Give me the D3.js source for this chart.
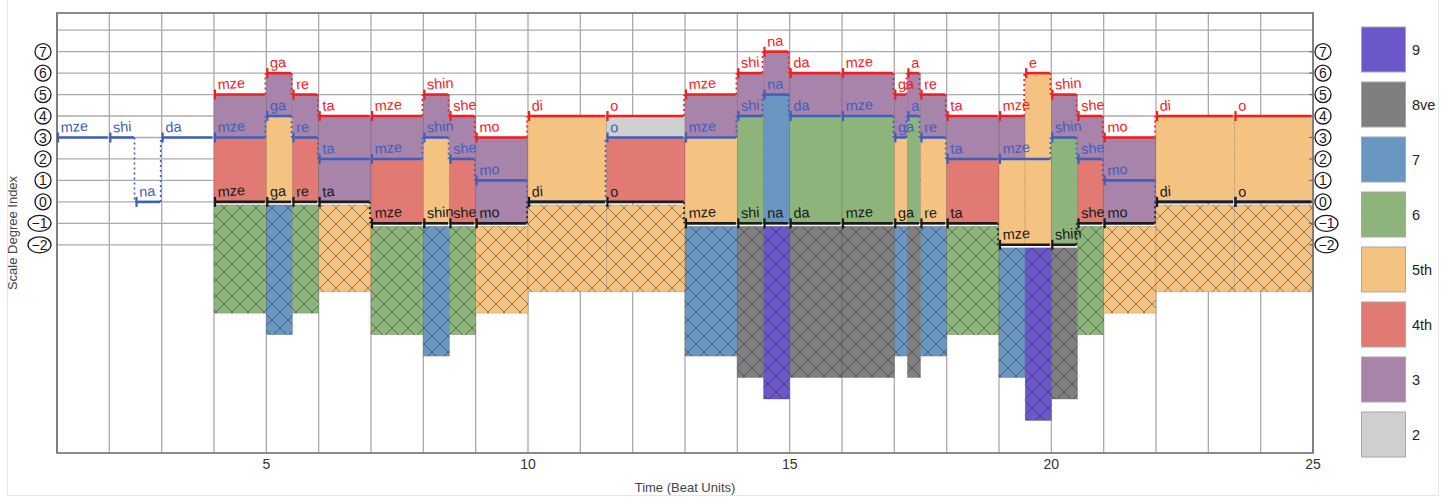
<!DOCTYPE html>
<html><head><meta charset="utf-8">
<script src="https://cdn.jsdelivr.net/npm/d3@7"></script>
<style>
body{margin:0;background:#fff}
svg{display:block}
text{font-family:"Liberation Sans",Arial,Helvetica,sans-serif}
</style>
</head><body>
<svg id="chart" width="1454" height="498"></svg>
<script>
// ---------------- data ----------------
const timeEnd = 25;
// middle voice (blue)
const midStart = [1,2,2.5,3,4,5,5.5,6,7,8,8.5,9,10,11.5,13,14,14.5,15,16,17,17.25,17.5,18,19,20,20.5,21,22,23.5];
const midLevel = [3,3,0,3,3,4,3,2,2,3,2,1,0,3,3,4,5,4,4,3,4,3,2,2,3,2,1,0,0];
const midSyl   = ["mze","shi","na","da","mze","ga","re","ta","mze","shin","she","mo","di","o","mze","shi","na","da","mze","ga","a","re","ta","mze","shin","she","mo","di","o"];
// top voice (red)
const topStart = [4,5,5.5,6,7,8,8.5,9,10,11.5,13,14,14.5,15,16,17,17.25,17.5,18,19,19.5,20,20.5,21,22,23.5];
const topLevel = [5,6,5,4,4,5,4,3,4,4,5,6,7,6,6,5,6,5,4,4,6,5,4,3,4,4];
const topSyl   = ["mze","ga","re","ta","mze","shin","she","mo","di","o","mze","shi","na","da","mze","ga","a","re","ta","mze","e","shin","she","mo","di","o"];
// bottom voice (black)
const botStart = [4,5,5.5,6,7,8,8.5,9,10,11.5,13,14,14.5,15,16,17,17.5,18,19,20,20.5,21,22,23.5];
const botLevel = [0,0,0,0,-1,-1,-1,-1,0,0,-1,-1,-1,-1,-1,-1,-1,-1,-2,-2,-1,-1,0,0];
const botSyl   = ["mze","ga","re","ta","mze","shin","she","mo","di","o","mze","shi","na","da","mze","ga","re","ta","mze","shin","she","mo","di","o"];
// interval categories (index = scale-degree distance - 1)
const intervalNames  = ["2","3","4th","5th","6","7","8ve","9"];
const intervalColors = ["#d0d0d0","#a884ab","#e07a73","#f5c381","#8db57b","#6997c1","#7f7f7f","#6b57c9"];
const yTickLabels = [-2,-1,0,1,2,3,4,5,6,7];
const yGrid = [-2,-1,0,1,2,3,4,5,6,7,8];
const xTickLabels = [5,10,15,20,25];
const xGrid = d3.range(1,26);

// ---------------- setup ----------------
const svg = d3.select("#chart");
const x = d3.scaleLinear().domain([1,25]).range([57,1313]);
const y = d3.scaleLinear().domain([-11.7,8.8]).range([453,13]);
const colorOf = d => intervalColors[d-1];

// outer faint frame
svg.append("rect").attr("x",7.5).attr("y",-2).attr("width",1431).attr("height",497.5)
  .attr("fill","none").attr("stroke","#e6e6e6").attr("stroke-width",1);

// hatch patterns
const defs = svg.append("defs");
intervalColors.forEach((c,i)=>{
  const p = defs.append("pattern").attr("id","h"+i).attr("patternUnits","userSpaceOnUse")
    .attr("width",16).attr("height",16);
  p.append("rect").attr("width",16).attr("height",16).attr("fill",c);
  p.append("path").attr("d","M0,0L16,16M16,0L0,16M-2,14L2,18M14,-2L18,2M-2,2L2,-2M14,18L18,14")
    .attr("stroke","rgba(30,30,30,0.55)").attr("stroke-width",0.85);
});

// grid
const grid = svg.append("g");
grid.selectAll("line.v").data(xGrid).join("line")
  .attr("x1",d=>x(d)).attr("x2",d=>x(d)).attr("y1",y.range()[1]).attr("y2",y.range()[0])
  .attr("stroke","#ababab").attr("stroke-width",1.3);
grid.selectAll("line.h").data(yGrid).join("line")
  .attr("x1",x(1)).attr("x2",x(25)).attr("y1",d=>y(d)).attr("y2",d=>y(d))
  .attr("stroke","#ababab").attr("stroke-width",1.3);

// segments
const levelAt = (starts,levels,t)=>{const i=d3.bisectRight(starts,t)-1;return i>=0?levels[i]:null;};
const bounds = Array.from(new Set([...topStart,...botStart,...midStart.filter(s=>s>=4),timeEnd])).sort((a,b)=>a-b);
const segs = [];
for(let i=0;i<bounds.length-1;i++){
  const a=bounds[i], b=bounds[i+1], t=(a+b)/2;
  const bl=levelAt(botStart,botLevel,t), ml=levelAt(midStart,midLevel,t), tl=levelAt(topStart,topLevel,t);
  if(bl===null||tl===null) continue;
  segs.push({a,b,bl,ml,tl});
}
const bars = svg.append("g");
segs.forEach(s=>{
  const d1=s.ml-s.bl, d2=s.tl-s.ml, d3=s.tl-s.bl;
  if(d1>=1) bars.append("rect").attr("x",x(s.a)).attr("width",x(s.b)-x(s.a))
    .attr("y",y(s.ml)).attr("height",y(s.bl)-y(s.ml)).attr("fill",colorOf(d1))
    .attr("stroke","rgba(0,0,0,0.18)").attr("stroke-width",0.7);
  if(d2>=1) bars.append("rect").attr("x",x(s.a)).attr("width",x(s.b)-x(s.a))
    .attr("y",y(s.tl)).attr("height",y(s.ml)-y(s.tl)).attr("fill",colorOf(d2))
    .attr("stroke","rgba(0,0,0,0.18)").attr("stroke-width",0.7);
  if(d3>=1) bars.append("rect").attr("x",x(s.a)).attr("width",x(s.b)-x(s.a))
    .attr("y",y(s.bl)+3).attr("height",(y(s.bl-d3)+4)-(y(s.bl)+3))
    .attr("fill","url(#h"+(d3-1)+")")
    .attr("stroke","rgba(0,0,0,0.2)").attr("stroke-width",0.7);
});

// plot border
svg.append("rect").attr("x",x(1)).attr("y",y.range()[1]).attr("width",x(25)-x(1)).attr("height",y.range()[0]-y.range()[1])
  .attr("fill","none").attr("stroke","#6e6e6e").attr("stroke-width",1.6);
// right axis ticks
svg.selectAll("line.rt").data(yTickLabels).join("line")
  .attr("x1",x(25)-4).attr("x2",x(25)).attr("y1",d=>y(d)).attr("y2",d=>y(d))
  .attr("stroke","#6e6e6e").attr("stroke-width",1.2);

// voices
function drawVoice(starts,levels,syls,color,hideLabel){
  const g=svg.append("g");
  const notes=starts.map((s,i)=>({s,e:i<starts.length-1?starts[i+1]:timeEnd,l:levels[i],syl:syls[i]}));
  notes.forEach((n,i)=>{
    if(i>0){
      const p=notes[i-1];
      if(p.l!==n.l) g.append("line").attr("x1",x(n.s)-1).attr("x2",x(n.s)-1)
        .attr("y1",y(p.l)).attr("y2",y(n.l)).attr("stroke",color).attr("stroke-width",1.6)
        .attr("stroke-dasharray","2,3");
    }
    g.append("line").attr("x1",x(n.s)).attr("x2",x(n.e)-1.5).attr("y1",y(n.l)).attr("y2",y(n.l))
      .attr("stroke",color).attr("stroke-width",2.6);
    g.append("line").attr("x1",x(n.s)+1).attr("x2",x(n.s)+1).attr("y1",y(n.l)-5).attr("y2",y(n.l)+5)
      .attr("stroke",color).attr("stroke-width",2.2);
    if(hideLabel && hideLabel(n)) return;
    const tx=x(n.s)+4, ty=y(n.l)-5;
    g.append("text").attr("x",tx).attr("y",ty).attr("transform",`rotate(-4,${tx},${ty})`)
      .attr("fill",color).attr("font-size",14.5).text(n.syl);
  });
}
// middle labels hidden where the middle voice sits in unison with the bottom voice
drawVoice(midStart,midLevel,midSyl,"#3f5fbd",n=>levelAt(botStart,botLevel,n.s+0.01)===n.l);
drawVoice(botStart,botLevel,botSyl,"#1a1a1a");
drawVoice(topStart,topLevel,topSyl,"#f01e1e");

// circled y labels
function circled(xPos,anchorRight){
  const g=svg.append("g");
  yTickLabels.forEach(v=>{
    const t=g.append("text").attr("y",y(v)).attr("dy","0.36em").attr("font-size",14)
      .attr("fill","#1a1a1a").attr("text-anchor","middle").text(v<0?"\u2212"+(-v):String(v));
    const w=t.node().getComputedTextLength();
    const rx=Math.max(8,w/2+3.5), ry=8;
    const cx=anchorRight? xPos-rx : xPos+rx;
    t.attr("x",cx);
    g.insert("ellipse","text").attr("cx",cx).attr("cy",y(v)).attr("rx",rx).attr("ry",ry)
      .attr("fill","#fff").attr("stroke","#1a1a1a").attr("stroke-width",1.3);
  });
}
circled(51,true);
circled(1315,false);

// x tick labels
svg.selectAll("text.xt").data(xTickLabels).join("text")
  .attr("x",d=>x(d)).attr("y",469).attr("text-anchor","middle").attr("font-size",14).attr("fill","#333").text(d=>d);
svg.append("text").attr("x",(x(1)+x(25))/2).attr("y",492).attr("text-anchor","middle")
  .attr("font-size",13).attr("fill","#444").text("Time (Beat Units)");
svg.append("text").attr("transform","translate(17,233) rotate(-90)").attr("text-anchor","middle")
  .attr("font-size",13).attr("fill","#444").text("Scale Degree Index");

// legend
const lg=svg.append("g");
const legendOrder=d3.range(intervalNames.length).reverse();
legendOrder.forEach((k,i)=>{
  const yy=27+i*55;
  lg.append("rect").attr("x",1361.5).attr("y",yy).attr("width",44).attr("height",45)
    .attr("fill",intervalColors[k]).attr("stroke","#a8a8a8").attr("stroke-width",1);
  lg.append("text").attr("x",1412).attr("y",yy+23).attr("dy","0.36em").attr("font-size",14.5)
    .attr("fill","#222").text(intervalNames[k]);
});
</script>
</body></html>
